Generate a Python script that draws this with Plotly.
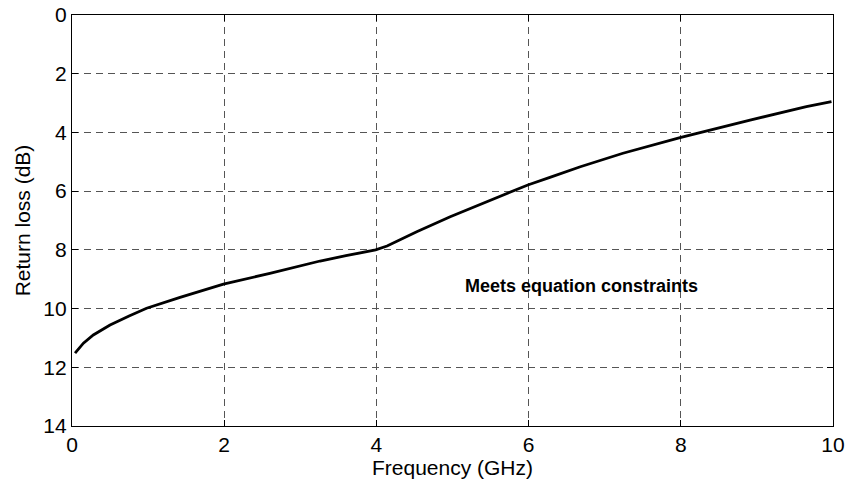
import plotly.graph_objects as go

freq_ghz = [0.04, 0.15, 0.28, 0.50, 0.75, 0.98, 1.42, 1.99, 2.60, 3.00, 3.26, 3.60, 3.99, 4.14, 4.31, 4.53,
            4.97, 5.40, 5.99, 6.28, 6.68, 7.24, 7.99, 8.91, 9.65, 9.98]
return_loss_db = [11.52, 11.18, 10.90, 10.56, 10.25, 9.99, 9.62, 9.17, 8.80, 8.54, 8.38, 8.20, 8.00, 7.87, 7.66, 7.38,
                  6.87, 6.41, 5.79, 5.53, 5.17, 4.71, 4.18, 3.58, 3.12, 2.95]

x_ticks = [0, 2, 4, 6, 8, 10]
y_ticks = [0, 2, 4, 6, 8, 10, 12, 14]
annotation_text = "Meets equation constraints"

font_family = "Liberation Sans, Arial, sans-serif"

fig = go.Figure()
fig.add_trace(go.Scatter(x=freq_ghz, y=return_loss_db, mode="lines",
                         line=dict(color="black", width=2.8),
                         showlegend=False))

fig.add_annotation(x=6.69, y=9.23, text="<b>" + annotation_text + "</b>", showarrow=False,
                   font=dict(family=font_family, size=18, color="black"))

axis_common = dict(
    showline=True, linecolor="black", linewidth=1.2, mirror="ticks",
    ticks="inside", ticklen=6, tickcolor="black", tickwidth=1,
    showgrid=True, gridcolor="#555555", gridwidth=1, griddash="7px,5px",
    zeroline=False, automargin=False,
    tickfont=dict(family=font_family, size=21, color="black"),
)

fig.update_xaxes(range=[0, 10], tickvals=x_ticks, ticktext=[str(v) for v in x_ticks],
                 title=dict(text="Frequency (GHz)", standoff=2,
                            font=dict(family=font_family, size=21, color="black")),
                 **axis_common)
fig.update_yaxes(range=[14, 0], tickvals=y_ticks, ticktext=[str(v) for v in y_ticks],
                 title=dict(text="Return loss (dB)", standoff=6,
                            font=dict(family=font_family, size=21, color="black")),
                 **axis_common)

fig.update_layout(width=847, height=487, margin=dict(l=72, r=14, t=15, b=61),
                  paper_bgcolor="white", plot_bgcolor="white",
                  font=dict(family=font_family, color="black"))

fig.write_html("out.html", config={"displayModeBar": False},
               post_script="document.body.style.margin='0';document.body.style.overflow='hidden';")
